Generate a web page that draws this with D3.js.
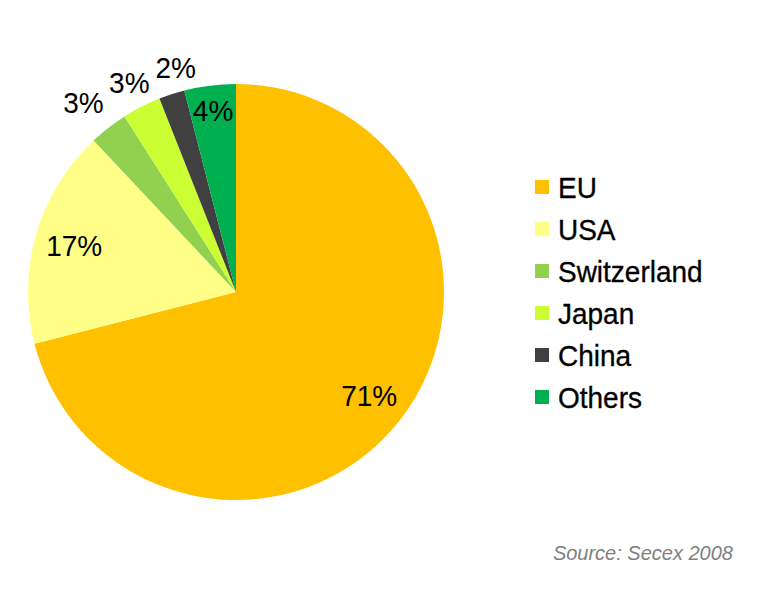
<!DOCTYPE html>
<html>
<head>
<meta charset="utf-8">
<script src="https://cdn.jsdelivr.net/npm/d3@7"></script>
<style>
  body { margin: 0; background: #fff; }
  text { font-family: Arial, "Liberation Sans", sans-serif; }
</style>
</head>
<body>
<svg id="chart" width="774" height="590"></svg>
<script>
// exports by destination
var categories = ["EU", "USA", "Switzerland", "Japan", "China", "Others"];
var values = [71, 17, 3, 3, 2, 4];
var labels = ["71%", "17%", "3%", "3%", "2%", "4%"];
var colors = ["#ffc000", "#ffff88", "#92d050", "#ccff33", "#404040", "#00b050"];

var width = 774, height = 590,
    cx = 236, cy = 292, radius = 208;

var svg = d3.select("#chart");

var data = categories.map(function(c, i) {
  return { name: c, value: values[i], label: labels[i], color: colors[i] };
});

var pie = d3.pie()
  .sort(null)
  .value(function(d) { return d.value; });

var arc = d3.arc().innerRadius(0).outerRadius(radius);

var g = svg.append("g").attr("transform", "translate(" + cx + "," + cy + ")");

var arcs = pie(data);

g.selectAll("path")
  .data(arcs)
  .enter().append("path")
  .attr("d", arc)
  .attr("fill", function(d) { return d.data.color; });

// big slices get the label inside, small ones outside (like excel best fit)
var labelR = { "EU": 0.81, "USA": 0.81, "Switzerland": 1.17, "Japan": 1.13, "China": 1.12, "Others": 0.88 };
var labelShift = { "China": 3, "Switzerland": -1 }; // degrees

// the original text is a little taller than it is wide
g.selectAll("text.lbl")
  .data(arcs)
  .enter().append("text")
  .attr("class", "lbl")
  .attr("transform", function(d) {
    var a = (d.startAngle + d.endAngle) / 2 + (labelShift[d.data.name] || 0) * Math.PI / 180;
    var r = radius * labelR[d.data.name];
    return "translate(" + (Math.sin(a) * r) + "," + (-Math.cos(a) * r) + ") scale(1,1.08)";
  })
  .attr("text-anchor", "middle")
  .attr("dy", "0.36em")
  .attr("font-size", 28)
  .attr("fill", "#000")
  .text(function(d) { return d.data.label; });

// legend
var legendY = d3.scalePoint()
  .domain(categories)
  .range([187, 397]);

var legend = svg.append("g").selectAll("g")
  .data(data)
  .enter().append("g")
  .attr("transform", function(d) { return "translate(535," + legendY(d.name) + ")"; });

legend.append("rect")
  .attr("x", 0).attr("y", -7)
  .attr("width", 14).attr("height", 14)
  .attr("fill", function(d) { return d.color; });

legend.append("text")
  .attr("transform", "translate(23,0) scale(1,1.08)")
  .attr("dy", "0.36em")
  .attr("font-size", 28)
  .attr("fill", "#000")
  .attr("stroke", "#000")
  .attr("stroke-width", 0.3)
  .text(function(d) { return d.name; });

svg.append("text")
  .attr("x", 733).attr("y", 560)
  .attr("text-anchor", "end")
  .attr("font-size", 20)
  .attr("font-style", "italic")
  .attr("fill", "#808080")
  .text("Source: Secex 2008");
</script>
</body>
</html>
